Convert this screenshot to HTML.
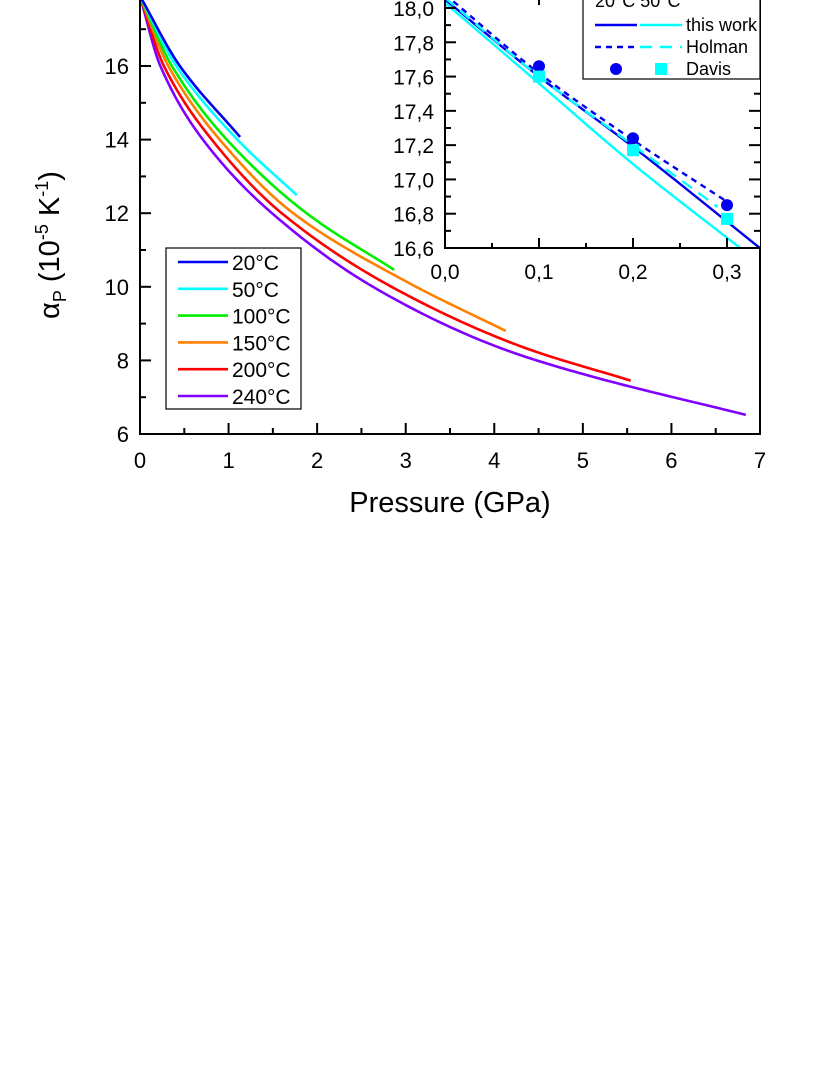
<!DOCTYPE html>
<html><head><meta charset="utf-8"><style>
html,body{margin:0;padding:0;background:#fff;}
svg{display:block;font-family:"Liberation Sans",Arial,sans-serif;}
</style></head><body>
<svg id="c" width="830" height="1075" viewBox="0 0 830 1075" xmlns="http://www.w3.org/2000/svg"></svg>
<script>
// ---------- main chart data ----------
const seriesNames = ["20°C","50°C","100°C","150°C","200°C","240°C"];
const seriesColors = ["#0000ee","#00ffff","#00ee00","#ff8000","#ff0000","#8000ff"];
const p20 = [0,0.45,1.13];                    const a20 = [17.9,16,14.07];
const p50 = [0,0.41,1.10,1.77];               const a50 = [17.9,16,14,12.49];
const p100 = [0,0.36,0.98,1.88,2.87];         const a100 = [17.9,16,14,12,10.46];
const p150 = [0,0.32,0.90,1.73,3.0,4.13];     const a150 = [17.9,16,14,12,10.15,8.8];
const p200 = [0,0.27,0.81,1.6,2.84,4.29,5.54]; const a200 = [17.9,16,14,12,10,8.39,7.45];
const p240 = [0,0.23,0.71,1.49,2.63,4.0,5.0,6.84]; const a240 = [17.9,16,14,12,10,8.4,7.63,6.52];
const xTicks = [0,1,2,3,4,5,6,7];
const yTicks = [6,8,10,12,14,16];
// ---------- inset data ----------
const insetXTicks = [0,0.1,0.2,0.3];
const insetXLabels = ["0,0","0,1","0,2","0,3"];
const insetYTicks = [16.6,16.8,17.0,17.2,17.4,17.6,17.8,18.0];
const insetYLabels = ["16,6","16,8","17,0","17,2","17,4","17,6","17,8","18,0"];
const workP20 = [0,0.1,0.2,0.335]; const workA20 = [18.05,17.6,17.19,16.6];
const workP50 = [0,0.1,0.2,0.314]; const workA50 = [18.03,17.56,17.09,16.6];
const holP20 = [0,0.1,0.2,0.3];    const holA20 = [18.08,17.62,17.23,16.87];
const holP50 = [0,0.1,0.2,0.29];   const holA50 = [18.06,17.6,17.2,16.84];
const davisP = [0.1,0.2,0.3];
const davisA20 = [17.66,17.24,16.85];
const davisA50 = [17.6,17.17,16.77];

const NS="http://www.w3.org/2000/svg";
const svg=document.getElementById('c');
function mk(tag,attrs,parent){const e=document.createElementNS(NS,tag);for(const k in attrs)e.setAttribute(k,attrs[k]);(parent||svg).appendChild(e);return e;}
const X=v=>140+v*(620/7);
const Y=v=>434-(v-6)*36.8;
const IX=v=>445+v*940;
const IY=v=>248-(v-16.6)*171.43;

function monoPath(xs,ys,fx,fy){
  const n=xs.length;
  if(n<3){return "M"+fx(xs[0])+","+fy(ys[0])+" L"+fx(xs[n-1])+","+fy(ys[n-1]);}
  const d=[],m=new Array(n);
  for(let i=0;i<n-1;i++)d.push((ys[i+1]-ys[i])/(xs[i+1]-xs[i]));
  m[0]=d[0];m[n-1]=d[n-2];
  for(let i=1;i<n-1;i++){m[i]=(d[i-1]*d[i]<=0)?0:2/(1/d[i-1]+1/d[i]);}
  let s="";
  for(let i=0;i<n-1;i++){
    const h=xs[i+1]-xs[i];
    for(let k=0;k<=24;k++){
      if(i>0&&k==0)continue;
      const t=k/24,t2=t*t,t3=t2*t;
      const y=(2*t3-3*t2+1)*ys[i]+(t3-2*t2+t)*h*m[i]+(-2*t3+3*t2)*ys[i+1]+(t3-t2)*h*m[i+1];
      const x=xs[i]+t*h;
      s+=(s?" L":"M")+fx(x).toFixed(2)+","+fy(y).toFixed(2);
    }
  }
  return s;
}
const defs=mk('defs',{});
const cp=mk('clipPath',{id:'mainclip'},defs); mk('rect',{x:140,y:-100,width:620,height:534},cp);
const cp2=mk('clipPath',{id:'insclip'},defs); mk('rect',{x:445,y:-100,width:315,height:348},cp2);

const mainP=[p20,p50,p100,p150,p200,p240], mainA=[a20,a50,a100,a150,a200,a240];
const gMain=mk('g',{'clip-path':'url(#mainclip)'});


for(let s=mainP.length-1;s>=0;s--){
  const path=mk('path',{d:monoPath(mainP[s],mainA[s],X,Y),fill:'none',stroke:seriesColors[s],'stroke-width':2.6,'stroke-linejoin':'round'},gMain);
  
  
}
const ax=mk('g',{stroke:'#000','stroke-width':2,fill:'none'});


mk('path',{d:'M140,-10 L140,434 L760,434 L760,-10'},ax);
xTicks.forEach(v=>{mk('line',{x1:X(v),y1:434,x2:X(v),y2:423},ax);
  if(v<7) mk('line',{x1:X(v+0.5),y1:434,x2:X(v+0.5),y2:428},ax);
  const t=mk('text',{x:X(v),y:468,'text-anchor':'middle','font-size':22,fill:'#000',stroke:'none'});t.textContent=v;
  
  
});
yTicks.forEach(v=>{mk('line',{x1:140,y1:Y(v),x2:151,y2:Y(v)},ax);
  mk('line',{x1:140,y1:Y(v+1),x2:146,y2:Y(v+1)},ax);
  const t=mk('text',{x:129,y:Y(v)+8,'text-anchor':'end','font-size':22,fill:'#000',stroke:'none'});t.textContent=v;
  
  
});
const xt=mk('text',{x:450,y:512,'text-anchor':'middle','font-size':29,fill:'#000'});xt.textContent='Pressure (GPa)';


const yt=mk('text',{x:0,y:0,'text-anchor':'middle','font-size':29,fill:'#000',transform:'translate(59,245) rotate(-90)'});
yt.innerHTML='α<tspan font-size="18" dy="7">P</tspan><tspan dy="-7"> (10</tspan><tspan font-size="18" dy="-11">-5</tspan><tspan dy="11"> K</tspan><tspan font-size="18" dy="-11">-1</tspan><tspan dy="11">)</tspan>';



const lg=mk('g',{});


mk('rect',{x:166,y:248,width:135,height:161,fill:'#fff',stroke:'#000','stroke-width':1.2},lg);
seriesNames.forEach((n,i)=>{const y=262+i*26.8;
  const e=mk('g',{},lg);
  
  
  mk('line',{x1:178,y1:y,x2:228,y2:y,stroke:seriesColors[i],'stroke-width':2.6},e);
  const t=mk('text',{x:232,y:y+8,'font-size':21,fill:'#000'},e);t.textContent=n;});

// ---------- inset ----------
const ins=mk('g',{});


mk('rect',{x:445,y:-20,width:315,height:268,fill:'#fff'},ins);
const gi=mk('g',{'clip-path':'url(#insclip)'},ins);
function line(P,A,col,dash,name){
  const e=mk('path',{d:monoPath(P,A,IX,IY),fill:'none',stroke:col,'stroke-width':2.4,'stroke-dasharray':dash||'none'},gi);
  
  }
line(workP50,workA50,'#00ffff',null,'this-work-50c');
line(workP20,workA20,'#0000ee',null,'this-work-20c');
line(holP50,holA50,'#00ffff','12,8','holman-50c');
line(holP20,holA20,'#0000ee','6,5','holman-20c');
davisP.forEach((p,i)=>{
  const c=mk('circle',{cx:IX(p),cy:IY(davisA20[i]),r:6,fill:'#0000ee'},gi);
  
  
  const r=mk('rect',{x:IX(p)-6,y:IY(davisA50[i])-6,width:12,height:12,fill:'#00ffff'},gi);
  
  
});
const ia=mk('g',{stroke:'#000','stroke-width':2,fill:'none'},ins);
mk('path',{d:'M445,-10 L445,248 L760,248'},ia);
insetXTicks.forEach((v,i)=>{mk('line',{x1:IX(v),y1:248,x2:IX(v),y2:238},ia);
  if(v+0.05<0.335) mk('line',{x1:IX(v+0.05),y1:248,x2:IX(v+0.05),y2:243},ia);
  const t=mk('text',{x:IX(v),y:279,'text-anchor':'middle','font-size':21,fill:'#000',stroke:'none'},ins);t.textContent=insetXLabels[i];
  
  });
insetYTicks.forEach((v,i)=>{mk('line',{x1:445,y1:IY(v),x2:456,y2:IY(v)},ia);
  mk('line',{x1:760,y1:IY(v),x2:749,y2:IY(v)},ia);
  mk('line',{x1:445,y1:IY(v+0.1),x2:451,y2:IY(v+0.1)},ia);
  mk('line',{x1:760,y1:IY(v+0.1),x2:754,y2:IY(v+0.1)},ia);
  const t=mk('text',{x:434,y:IY(v)+8,'text-anchor':'end','font-size':21,fill:'#000',stroke:'none'},ins);t.textContent=insetYLabels[i];
  
  });
mk('line',{x1:539,y1:0,x2:539,y2:5,stroke:'#000','stroke-width':2},ins);

const il=mk('g',{},ins);


mk('rect',{x:583,y:-20,width:177,height:99,fill:'#fff',stroke:'#000','stroke-width':1.2},il);
const hd=mk('text',{x:595,y:7,'font-size':18,fill:'#000'},il);hd.textContent='20°C  50°C';
mk('line',{x1:595,y1:25,x2:637,y2:25,stroke:'#0000ee','stroke-width':2.4},il);
mk('line',{x1:640,y1:25,x2:682,y2:25,stroke:'#00ffff','stroke-width':2.4},il);
mk('line',{x1:595,y1:47,x2:637,y2:47,stroke:'#0000ee','stroke-width':2.4,'stroke-dasharray':'6,5'},il);
mk('line',{x1:640,y1:47,x2:682,y2:47,stroke:'#00ffff','stroke-width':2.4,'stroke-dasharray':'12,8'},il);
mk('circle',{cx:616,cy:69,r:6,fill:'#0000ee'},il);
mk('rect',{x:655,y:63,width:12,height:12,fill:'#00ffff'},il);
[['this work',31],['Holman',53],['Davis',75]].forEach(([s,y])=>{const t=mk('text',{x:686,y:y,'font-size':18,fill:'#000'},il);t.textContent=s;});
</script>
</body></html>
